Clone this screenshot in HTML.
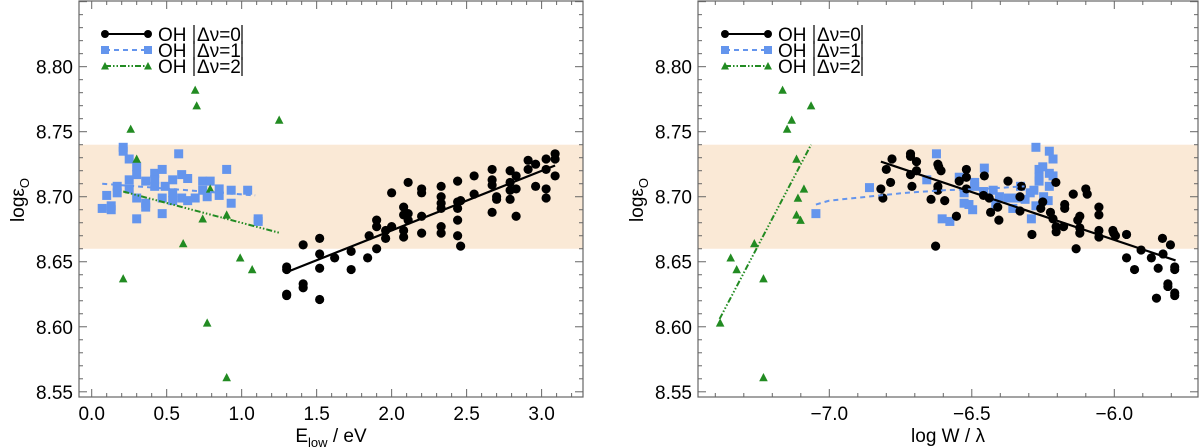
<!DOCTYPE html>
<html><head><meta charset="utf-8"><style>
html,body{margin:0;padding:0;background:#fff;}
svg{display:block;font-family:"Liberation Sans",sans-serif;}
</style></head><body>
<svg id="fig" width="1200" height="448" viewBox="0 0 1200 448" xmlns="http://www.w3.org/2000/svg"></svg>
<script>
// ---- data: left panel (E_low) ----
const leftV0x=[1.30,1.30,1.30,1.30,1.41,1.41,1.41,1.52,1.52,1.52,1.52,1.62,1.73,1.73,1.84,1.85,1.90,1.90,1.90,1.96,1.96,2.00,2.00,2.08,2.08,2.08,2.08,2.11,2.11,2.11,2.20,2.20,2.20,2.20,2.33,2.33,2.33,2.33,2.33,2.33,2.44,2.44,2.44,2.44,2.44,2.46,2.46,2.55,2.55,2.67,2.67,2.67,2.67,2.70,2.70,2.79,2.79,2.79,2.79,2.83,2.83,2.83,2.91,2.91,2.96,2.96,3.03,3.03,3.03,3.03,3.09,3.09,3.09];
const leftV0y=[8.646,8.644,8.625,8.624,8.633,8.630,8.663,8.668,8.656,8.645,8.621,8.653,8.658,8.644,8.653,8.670,8.682,8.677,8.660,8.674,8.668,8.703,8.677,8.692,8.686,8.674,8.669,8.711,8.687,8.682,8.706,8.703,8.685,8.672,8.708,8.700,8.695,8.691,8.677,8.672,8.712,8.696,8.691,8.682,8.670,8.697,8.662,8.716,8.702,8.721,8.713,8.709,8.688,8.700,8.698,8.720,8.711,8.705,8.698,8.716,8.706,8.685,8.728,8.721,8.725,8.708,8.729,8.721,8.706,8.699,8.733,8.729,8.716];
const leftV1x=[0.07,0.10,0.13,0.13,0.17,0.17,0.21,0.21,0.25,0.25,0.25,0.30,0.30,0.30,0.30,0.36,0.36,0.36,0.42,0.42,0.42,0.47,0.47,0.47,0.49,0.54,0.54,0.54,0.58,0.60,0.60,0.64,0.64,0.69,0.74,0.74,0.77,0.79,0.85,0.85,0.90,0.93,0.93,1.04,1.11,1.11];
const leftV1y=[8.691,8.701,8.693,8.690,8.703,8.708,8.738,8.735,8.729,8.713,8.706,8.723,8.717,8.699,8.683,8.712,8.695,8.692,8.718,8.713,8.708,8.721,8.699,8.687,8.708,8.713,8.703,8.697,8.733,8.717,8.699,8.714,8.697,8.699,8.712,8.705,8.700,8.712,8.706,8.701,8.721,8.705,8.695,8.705,8.683,8.681];
const leftV2x=[0.21,0.26,0.30,0.61,0.69,0.70,0.74,0.77,0.79,0.90,0.90,0.99,1.07,1.25];
const leftV2y=[8.637,8.752,8.729,8.664,8.782,8.770,8.683,8.603,8.706,8.686,8.561,8.653,8.644,8.759];
const leftFit0x=[1.30,3.09], leftFit0y=[8.642,8.724];
const leftFit1x=[0.07,1.09], leftFit1y=[8.710,8.701];
const leftFit2x=[0.21,1.26], leftFit2y=[8.704,8.672];
// ---- data: right panel (log W/lambda) ----
const rightV0x=[-6.819,-6.812,-6.80,-6.785,-6.78,-6.715,-6.715,-6.715,-6.71,-6.694,-6.694,-6.643,-6.627,-6.619,-6.616,-6.619,-6.619,-6.608,-6.595,-6.554,-6.544,-6.519,-6.519,-6.519,-6.456,-6.459,-6.439,-6.434,-6.409,-6.405,-6.373,-6.331,-6.331,-6.326,-6.289,-6.258,-6.251,-6.224,-6.215,-6.205,-6.204,-6.204,-6.178,-6.174,-6.174,-6.144,-6.134,-6.128,-6.121,-6.121,-6.121,-6.10,-6.095,-6.054,-6.054,-6.054,-6.054,-6.005,-6.002,-5.996,-5.957,-5.957,-5.929,-5.906,-5.870,-5.852,-5.846,-5.831,-5.829,-5.812,-5.812,-5.803,-5.788,-5.788,-5.788,-5.788];
const rightV0y=[8.706,8.699,8.721,8.711,8.729,8.733,8.731,8.717,8.708,8.727,8.720,8.698,8.662,8.725,8.723,8.708,8.705,8.720,8.697,8.685,8.712,8.721,8.715,8.706,8.716,8.701,8.699,8.688,8.692,8.682,8.712,8.700,8.689,8.708,8.671,8.691,8.696,8.688,8.683,8.711,8.677,8.673,8.677,8.694,8.691,8.702,8.660,8.682,8.685,8.676,8.672,8.706,8.702,8.692,8.686,8.674,8.669,8.674,8.672,8.670,8.671,8.653,8.644,8.659,8.653,8.622,8.645,8.668,8.656,8.633,8.631,8.663,8.646,8.644,8.626,8.624];
const rightV1x=[-7.047,-6.859,-6.658,-6.624,-6.604,-6.577,-6.544,-6.527,-6.510,-6.527,-6.497,-6.490,-6.490,-6.456,-6.459,-6.425,-6.416,-6.403,-6.372,-6.356,-6.342,-6.329,-6.313,-6.295,-6.291,-6.282,-6.275,-6.275,-6.264,-6.264,-6.264,-6.251,-6.248,-6.232,-6.228,-6.215,-6.228,-6.228,-6.215];
const rightV1y=[8.687,8.707,8.713,8.733,8.683,8.681,8.715,8.695,8.694,8.703,8.690,8.711,8.708,8.722,8.704,8.705,8.694,8.700,8.699,8.691,8.699,8.708,8.698,8.703,8.683,8.705,8.738,8.693,8.721,8.715,8.712,8.723,8.700,8.697,8.735,8.729,8.718,8.708,8.716];
const rightV2x=[-7.383,-7.346,-7.325,-7.263,-7.231,-7.231,-7.164,-7.148,-7.132,-7.115,-7.110,-7.115,-7.101,-7.089,-7.064];
const rightV2y=[8.603,8.653,8.644,8.664,8.637,8.561,8.782,8.752,8.759,8.729,8.699,8.686,8.682,8.706,8.770];
const rightFit0x=[-6.819,-5.785], rightFit0y=[8.727,8.651];
const rightFit1x=[-7.047,-7.0,-6.866,-6.732,-6.597,-6.463,-6.315], rightFit1y=[8.694,8.697,8.700,8.703,8.705,8.706,8.708];
const rightFit2x=[-7.385,-7.064], rightFit2y=[8.606,8.740];
const yTicks=[8.55,8.60,8.65,8.70,8.75,8.80];
const leftXTicks=[0.0,0.5,1.0,1.5,2.0,2.5,3.0];
const rightXTicks=[-7.0,-6.5,-6.0];
const band=[8.66,8.74];

const NS="http://www.w3.org/2000/svg";
const svg=document.getElementById('fig');
function mk(tag,attrs,parent){const e=document.createElementNS(NS,tag);for(const k in attrs)e.setAttribute(k,attrs[k]);(parent||svg).appendChild(e);return e;}

function panel(cfg){
  const g=mk('g',{});
  
  
  const L=cfg.L,R=cfg.R,T=1,B=397;
  const yMin=8.546,yMax=8.8505;
  const sx=v=>L+(v-cfg.xMin)/(cfg.xMax-cfg.xMin)*(R-L);
  const sy=v=>B-(v-yMin)/(yMax-yMin)*(B-T);
  const b=mk('rect',{x:L,y:sy(band[1]),width:R-L,height:sy(band[0])-sy(band[1]),fill:'#fae9d6'},g);
  
  
  // ticks
  const tg=mk('g',{stroke:'#666','stroke-width':1},g);
  for(let i=0;i<=30;i++){const v=8.55+i*0.01;if(v>yMax)break;const y=sy(v);const maj=(i%5===0);const len=maj?8:4;
    mk('line',{x1:L,x2:L+len,y1:y,y2:y},tg);mk('line',{x1:R,x2:R-len,y1:y,y2:y},tg);}
  const xs=Math.ceil(cfg.xMin*10),xe=Math.floor(cfg.xMax*10);
  for(let i=xs;i<=xe;i++){const x=sx(i/10);const maj=(Math.abs(i)%5===0);const len=maj?8:4;
    mk('line',{x1:x,x2:x,y1:B,y2:B-len},tg);mk('line',{x1:x,x2:x,y1:T,y2:T+len},tg);}
  yTicks.forEach(v=>{const t=mk('text',{x:L-6,y:sy(v)+7,'text-anchor':'end','font-size':19,fill:'#000'},g);t.textContent=v.toFixed(2);
    });
  cfg.xTicks.forEach(v=>{const t=mk('text',{x:sx(v),y:420,'text-anchor':'middle','font-size':19,fill:'#000'},g);t.textContent=(v<0?'\u2212'+Math.abs(v).toFixed(1):v.toFixed(1));
    });
  // fits
  function line(xa,ya,color,dash,w,name){let d='';xa.forEach((x,i)=>{d+=(i?'L':'M')+sx(x)+','+sy(ya[i]);});
    const p=mk('path',{d:d,fill:'none',stroke:color,'stroke-width':w,'stroke-dasharray':dash},g);
    }
  // markers
  function circles(xa,ya,name){xa.forEach((x,i)=>{const c=mk('circle',{cx:sx(x),cy:sy(ya[i]),r:4.6,fill:'#000'},g);
    });}
  function squares(xa,ya,name){xa.forEach((x,i)=>{const c=mk('rect',{x:sx(x)-4.5,y:sy(ya[i])-4.5,width:9,height:9,fill:'#6495ed'},g);
    });}
  function tris(xa,ya,name){xa.forEach((x,i)=>{const X=sx(x),Y=sy(ya[i]);const c=mk('path',{d:`M${X-4.3},${Y+3.7}L${X+4.3},${Y+3.7}L${X},${Y-4.5}Z`,fill:'#228b22'},g);
    });}
  squares(cfg.v1x,cfg.v1y,'dv1-point');
  tris(cfg.v2x,cfg.v2y,'dv2-point');
  circles(cfg.v0x,cfg.v0y,'dv0-point');
  line(cfg.f1x,cfg.f1y,'#6495ed','5,4',2,'dv1-fit-line');
  line(cfg.f2x,cfg.f2y,'#228b22','6,2,1.5,2,1.5,2,1.5,2',2,'dv2-fit-line');
  line(cfg.f0x,cfg.f0y,'#000','',2.2,'dv0-fit-line');
  // frame
  const fr=mk('rect',{x:L,y:T,width:R-L,height:B-T,fill:'none',stroke:'#666','stroke-width':1.2},g);
  
  // legend
  const lg=mk('g',{},g);
  const lx=cfg.legX;const ys=[34,50,66];
  const entries=[['#000','',0],['#6495ed','5,4',1],['#228b22','6,2,1.5,2,1.5,2',2]];
  entries.forEach((e,i)=>{const eg=mk('g',{},lg);
    const y=ys[i];mk('line',{x1:lx,x2:lx+43,y1:y,y2:y,stroke:e[0],'stroke-width':2,'stroke-dasharray':e[1]},eg);
    [lx,lx+43].forEach(X=>{if(i===0)mk('circle',{cx:X,cy:y,r:4,fill:'#000'},eg);
      else if(i===1)mk('rect',{x:X-4,y:y-4,width:8,height:8,fill:'#6495ed'},eg);
      else mk('path',{d:`M${X-4},${y+3.5}L${X+4},${y+3.5}L${X},${y-4}Z`,fill:'#228b22'},eg);});
    const t=mk('text',{x:lx+53,y:y+7,'font-size':19,fill:'#000'},eg);t.textContent='OH ';
    mk('line',{x1:lx+89,x2:lx+89,y1:y-9,y2:y+10,stroke:'#000','stroke-width':1.2},eg);
    const t2=mk('text',{x:lx+92,y:y+7,'font-size':19,fill:'#000'},eg);t2.textContent='\u0394\u03bd='+e[2];
    mk('line',{x1:lx+137,x2:lx+137,y1:y-9,y2:y+10,stroke:'#000','stroke-width':1.2},eg);
  });
  // axis titles
  const yt=mk('text',{transform:`translate(${cfg.yTitleX},200) rotate(-90)`,'text-anchor':'middle','font-size':19,fill:'#000'},g);
  
  yt.innerHTML='log\u03b5<tspan font-size="13" dy="5">O</tspan>';
  const xt=mk('text',{x:(L+R)/2,y:442,'text-anchor':'middle','font-size':19,fill:'#000'},g);
  
  xt.innerHTML=cfg.xTitle;
}
panel({name:'left-panel',L:79,R:583,xMin:-0.0847,xMax:3.276,xTicks:leftXTicks,legX:105,yTitleX:24,
  v0x:leftV0x,v0y:leftV0y,v1x:leftV1x,v1y:leftV1y,v2x:leftV2x,v2y:leftV2y,
  f0x:leftFit0x,f0y:leftFit0y,f1x:leftFit1x,f1y:leftFit1y,f2x:leftFit2x,f2y:leftFit2y,
  xTitle:'E<tspan font-size="13" dy="5">low</tspan><tspan dy="-5"> / eV</tspan>'});
panel({name:'right-panel',L:698,R:1198,xMin:-7.4607,xMax:-5.7063,xTicks:rightXTicks,legX:725,yTitleX:643,
  v0x:rightV0x,v0y:rightV0y,v1x:rightV1x,v1y:rightV1y,v2x:rightV2x,v2y:rightV2y,
  f0x:rightFit0x,f0y:rightFit0y,f1x:rightFit1x,f1y:rightFit1y,f2x:rightFit2x,f2y:rightFit2y,
  xTitle:'log W / \u03bb'});
</script>
</body></html>
